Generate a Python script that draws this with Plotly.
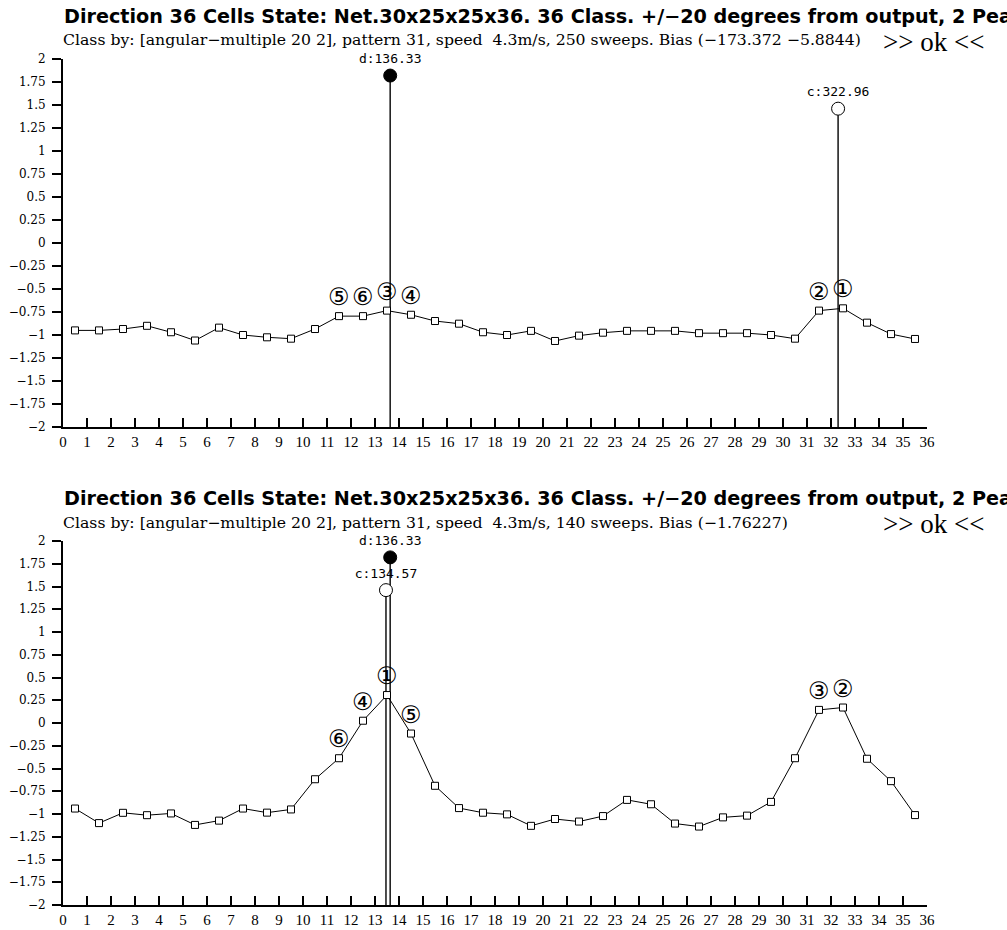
import plotly.graph_objects as go

# ---------------- data ----------------
cells = list(range(36))
x_ticks = list(range(37))
y_ticks = [2, 1.75, 1.5, 1.25, 1, 0.75, 0.5, 0.25, 0, -0.25, -0.5, -0.75, -1, -1.25, -1.5, -1.75, -2]
y_tick_text = ["2", "1.75", "1.5", "1.25", "1", "0.75", "0.5", "0.25", "0", "−0.25", "−0.5", "−0.75",
               "−1", "−1.25", "−1.5", "−1.75", "−2"]

top_values = [-0.95, -0.95, -0.935, -0.90, -0.97, -1.06, -0.92, -1.0, -1.025, -1.04, -0.935, -0.795,
              -0.795, -0.735, -0.78, -0.848, -0.877, -0.97, -1.0, -0.955, -1.065, -1.007, -0.975, -0.955,
              -0.955, -0.955, -0.98, -0.98, -0.98, -1.0, -1.04, -0.735, -0.71, -0.866, -0.99, -1.043]
bottom_values = [-0.94, -1.10, -0.987, -1.013, -0.994, -1.12, -1.073, -0.94, -0.985, -0.95, -0.618, -0.387,
                 0.025, 0.307, -0.116, -0.69, -0.935, -0.986, -1.004, -1.13, -1.055, -1.083, -1.023, -0.845,
                 -0.893, -1.105, -1.138, -1.037, -1.018, -0.867, -0.387, 0.144, 0.17, -0.393, -0.639, -1.012]

# peak markers: degrees and heights (d = desired, c = computed)
top_d_deg, top_d_val = 136.33, 1.82
top_c_deg, top_c_val = 322.96, 1.46
bot_d_deg, bot_d_val = 136.33, 1.82
bot_c_deg, bot_c_val = 134.57, 1.46

# ranked cell indices for circled labels (1st..6th)
rank_symbols = ["①", "②", "③", "④", "⑤", "⑥"]
top_rank_cells = [32, 31, 13, 14, 11, 12]
bottom_rank_cells = [13, 32, 31, 12, 14, 11]

title_text = "Direction 36 Cells State: Net.30x25x25x36. 36 Class. +/−20 degrees from output, 2 Peaks"
top_sub = "Class by: [angular−multiple 20 2], pattern 31, speed  4.3m/s, 250 sweeps. Bias (−173.372 −5.8844)"
bot_sub = "Class by: [angular−multiple 20 2], pattern 31, speed  4.3m/s, 140 sweeps. Bias (−1.76227)"
ok_text = ">> ok <<"

Y_MIN, Y_MAX = -2, 2
W, H = 1007, 930

# ---------------- figure ----------------
fig = go.Figure()
SERIF = "Liberation Serif"
WSERIF = "DejaVu Serif"
MONO = "DejaVu Sans Mono"

def add_chart(xa, ya, values, d_deg, d_val, c_deg, c_val, rank_cells):
    xc = [c + 0.5 for c in cells]
    # vertical peak lines
    for deg, val in [(d_deg, d_val), (c_deg, c_val)]:
        fig.add_trace(go.Scatter(x=[deg / 10, deg / 10], y=[Y_MIN, val], mode="lines",
                                 line=dict(color="#222222", width=1.6), xaxis=xa, yaxis=ya,
                                 showlegend=False, hoverinfo="skip"))
    # cell line
    fig.add_trace(go.Scatter(x=xc, y=values, mode="lines+markers",
                             line=dict(color="black", width=1),
                             marker=dict(symbol="square", size=7, color="white",
                                         line=dict(color="black", width=1)),
                             xaxis=xa, yaxis=ya, showlegend=False))
    # peak markers
    fig.add_trace(go.Scatter(x=[c_deg / 10], y=[c_val], mode="markers+text",
                             marker=dict(symbol="circle", size=13, color="white",
                                         line=dict(color="black", width=1)),
                             text=["c:%.2f" % c_deg], textposition="top center", cliponaxis=False,
                             textfont=dict(family=MONO, size=13, color="black"),
                             xaxis=xa, yaxis=ya, showlegend=False))
    fig.add_trace(go.Scatter(x=[d_deg / 10], y=[d_val], mode="markers+text",
                             marker=dict(symbol="circle", size=13, color="black",
                                         line=dict(color="black", width=1)),
                             text=["d:%.2f" % d_deg], textposition="top center", cliponaxis=False,
                             textfont=dict(family=MONO, size=13, color="black"),
                             xaxis=xa, yaxis=ya, showlegend=False))
    # circled rank labels
    for sym, cell in zip(rank_symbols, rank_cells):
        fig.add_annotation(x=cell + 0.5, y=values[cell], xref=xa, yref=ya, text=sym,
                           showarrow=False, yshift=19,
                           font=dict(family="DejaVu Sans", size=24, color="black"))

add_chart("x", "y", top_values, top_d_deg, top_d_val, top_c_deg, top_c_val, top_rank_cells)
add_chart("x2", "y2", bottom_values, bot_d_deg, bot_d_val, bot_c_deg, bot_c_val, bottom_rank_cells)

x_dom = [63 / W, 927 / W]
top_dom = [1 - 427 / H, 1 - 59 / H]
bot_dom = [1 - 905 / H, 1 - 541 / H]

def xaxis_cfg(anchor):
    return dict(domain=x_dom, range=[0, 36], anchor=anchor, tickvals=x_ticks,
                ticktext=[str(v) for v in x_ticks], ticks="inside", ticklen=9, tickwidth=1.5,
                tickcolor="black", showline=True, linecolor="black", linewidth=2,
                showgrid=False, zeroline=False, automargin=False,
                tickfont=dict(family=SERIF, size=15, color="black"), fixedrange=True)

def yaxis_cfg(anchor, dom, ticks="outside", labels=True, overlay=None):
    d = dict(domain=dom, range=[Y_MIN, Y_MAX], anchor=anchor, tickvals=y_ticks, ticktext=y_tick_text,
             ticks=ticks, ticklen=9, tickwidth=1.5, tickcolor="black", showline=True,
             linecolor="black", linewidth=2, showgrid=False, zeroline=False, automargin=False,
             showticklabels=labels, ticklabelstandoff=4,
             tickfont=dict(family=WSERIF, size=12, color="black"), fixedrange=True)
    if overlay:
        d["overlaying"] = overlay
    return d

fig.update_layout(
    width=W, height=H, margin=dict(l=0, r=0, t=0, b=0, autoexpand=False),
    paper_bgcolor="white", plot_bgcolor="rgba(0,0,0,0)",
    xaxis=xaxis_cfg("y"), xaxis2=xaxis_cfg("y2"),
    yaxis=yaxis_cfg("x", top_dom), yaxis2=yaxis_cfg("x2", bot_dom),
    yaxis3=yaxis_cfg("x", top_dom, ticks="inside", labels=False, overlay="y"),
    yaxis4=yaxis_cfg("x2", bot_dom, ticks="inside", labels=False, overlay="y2"),
    showlegend=False,
)

# titles (positioned relative to each chart's top edge)
for top_px, sub in [(59, top_sub), (541, bot_sub)]:
    fig.add_annotation(xref="paper", yref="paper", x=62 / W, y=1 - (top_px - 43) / H, xanchor="left",
                       yanchor="middle", text="<b>" + title_text + "</b>", showarrow=False,
                       font=dict(family="DejaVu Sans", size=19.2, color="black"))
    fig.add_annotation(xref="paper", yref="paper", x=61 / W, y=1 - (top_px - 19) / H, xanchor="left",
                       yanchor="middle", text=sub, showarrow=False,
                       font=dict(family=WSERIF, size=15.7, color="black"))
    fig.add_annotation(xref="paper", yref="paper", x=881 / W, y=1 - (top_px - 17) / H, xanchor="left",
                       yanchor="middle", text=ok_text, showarrow=False,
                       font=dict(family=SERIF, size=27, color="black"))

fig.write_html("out.html", config={"displayModeBar": False},
               post_script="document.body.style.margin='0';document.body.style.overflow='hidden';")
